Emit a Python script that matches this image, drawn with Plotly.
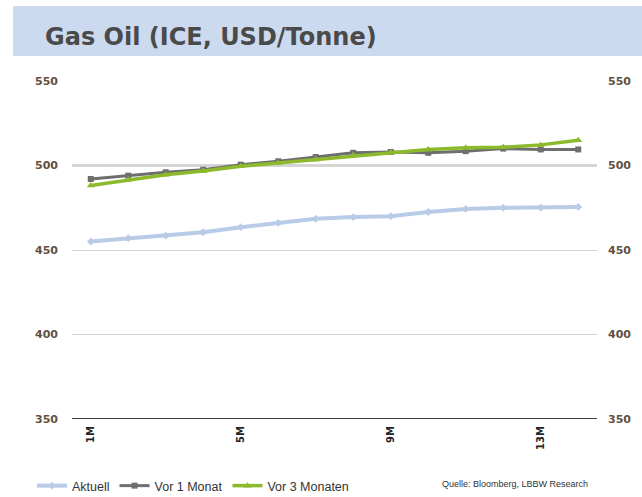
import plotly.graph_objects as go

categories = ["1M", "2M", "3M", "4M", "5M", "6M", "7M", "8M", "9M", "10M", "11M", "12M", "13M", "14M"]
aktuell = [455, 457, 458.5, 460.5, 463.5, 466, 468.5, 469.5, 470, 472.5, 474.3, 475, 475, 475.5]
vor_1_monat = [492, 494, 496, 497.5, 500.5, 502.5, 505, 507.5, 508, 507.5, 508.5, 510, 509.5, 509.5]
vor_3_monaten = [488.2, 491.5, 494.5, 496.7, 499.6, 501.5, 503.5, 506, 507.8, 509.5, 510.5, 510.8, 512.2, 515]
shown_ticks = ["1M", "5M", "9M", "13M"]
y_ticks = [350, 400, 450, 500, 550]

W, H = 642, 497
L, R, T, B = 72, 45, 81, 78
pw, ph = W - L - R, H - T - B

def px_x(p):
    return (p - L) / pw

def px_y(p):
    return (H - B - p) / ph

fig = go.Figure()
fig.add_trace(go.Scatter(x=categories, y=aktuell, name="Aktuell", mode="lines+markers",
                         line=dict(color="#B8CCE8", width=4),
                         marker=dict(symbol="diamond", size=6, color="#B8CCE8")))
fig.add_trace(go.Scatter(x=categories, y=vor_1_monat, name="Vor 1 Monat", mode="lines+markers",
                         line=dict(color="#6E6E6E", width=3),
                         marker=dict(symbol="square", size=6, color="#6E6E6E")))
fig.add_trace(go.Scatter(x=categories, y=vor_3_monaten, name="Vor 3 Monaten", mode="lines+markers",
                         line=dict(color="#8CBA2C", width=3.5),
                         marker=dict(symbol="triangle-up", size=7, color="#8CBA2C")))
# invisible trace for right axis
fig.add_trace(go.Scatter(x=categories, y=aktuell, yaxis="y2", mode="lines",
                         line=dict(width=0), showlegend=False, hoverinfo="skip", opacity=0))

tick_font = dict(size=11, color="#62503F", family="DejaVu Sans", weight="bold")

fig.update_layout(
    width=W, height=H,
    margin=dict(l=L, r=R, t=T, b=B, autoexpand=False),
    paper_bgcolor="white", plot_bgcolor="white",
    font=dict(family="DejaVu Sans", color="#595959"),
    xaxis=dict(type="category", categoryorder="array", categoryarray=categories,
               range=[-0.5, len(categories) - 0.5], tickmode="array", tickvals=shown_ticks,
               ticktext=shown_ticks, tickangle=-90, showgrid=False, zeroline=False,
               showline=False, ticks="", automargin=False, ticklabelstandoff=4,
               tickfont=dict(size=10, color="#222222", family="DejaVu Sans", weight="bold")),
    yaxis=dict(range=[350, 550], tickvals=y_ticks, showgrid=True, gridcolor="#D4D4D4",
               gridwidth=1, zeroline=False, showline=False, ticks="", automargin=False,
               tickfont=tick_font, ticklabelstandoff=13),
    yaxis2=dict(range=[350, 550], tickvals=y_ticks, overlaying="y", side="right",
                showgrid=False, zeroline=False, showline=False, ticks="", automargin=False,
                tickfont=tick_font, ticklabelstandoff=10),
    legend=dict(orientation="h", x=32 / W, y=1 - 486 / H, xref="container", yref="container",
                xanchor="left", yanchor="middle",
                font=dict(size=12.5, color="#333333", family="Liberation Sans"),
                itemwidth=30, tracegroupgap=0, bgcolor="rgba(0,0,0,0)"),
    title=dict(text="<b>Gas Oil (ICE, USD/Tonne)</b>", x=45 / W, xanchor="left",
               y=1 - 37 / H, yanchor="middle", xref="container", yref="container",
               font=dict(size=24, color="#4A4A4A", family="DejaVu Sans")),
    showlegend=True,
)

fig.add_shape(type="rect", xref="paper", yref="paper", x0=px_x(13), x1=px_x(642),
              y0=px_y(56), y1=px_y(6), fillcolor="#CCDAF0", line=dict(width=0), layer="below")
fig.add_shape(type="line", xref="paper", yref="y", x0=0, x1=1, y0=500, y1=500,
              line=dict(color="#C8C8C8", width=2.5), layer="below")
fig.add_shape(type="line", xref="paper", yref="y", x0=0, x1=1, y0=350, y1=350,
              line=dict(color="#000000", width=1.5), layer="above")

fig.add_annotation(text="Quelle: Bloomberg, LBBW Research", xref="paper", yref="paper",
                   x=px_x(590), y=px_y(484), xanchor="right", yanchor="middle", showarrow=False,
                   font=dict(size=9, color="#333333", family="Liberation Sans Narrow, Liberation Sans"))

fig.write_html("out.html", config={"displayModeBar": False},
               post_script="document.body.style.margin='0';")
